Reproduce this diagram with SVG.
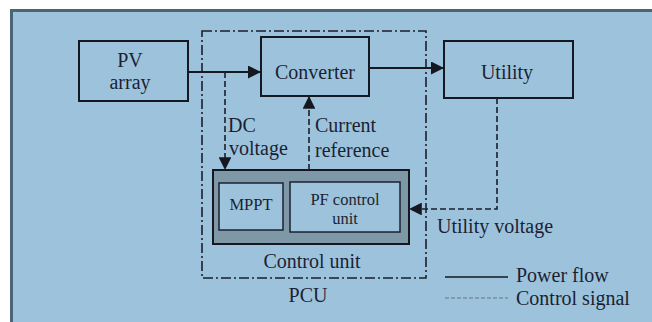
<svg xmlns="http://www.w3.org/2000/svg" width="652" height="322" viewBox="0 0 652 322" font-family="'Liberation Serif', 'DejaVu Serif', serif">
<defs>
<style>
text{font-family:'Liberation Serif','DejaVu Serif',serif;fill:#1c1f33;font-size:20px}
.s{font-size:16.5px}
.box{fill:none;stroke:#151820;stroke-width:2}
.solid{fill:none;stroke:#151820;stroke-width:2}
.dash{fill:none;stroke:#1c1f2a;stroke-width:1.6;stroke-dasharray:6,3}
.pcu{fill:none;stroke:#1c1f2a;stroke-width:1.6;stroke-dasharray:10,3,2,3}
</style>
<marker id="ah" viewBox="0 0 10 10" refX="10" refY="5" markerWidth="6.5" markerHeight="6.5" markerUnits="strokeWidth" orient="auto">
<path d="M0,0 L10,5 L0,10 z" fill="#151820"/>
</marker>
<marker id="ahd" viewBox="0 0 10 10" refX="10" refY="5" markerWidth="8" markerHeight="8" markerUnits="strokeWidth" orient="auto">
<path d="M0,0 L10,5 L0,10 z" fill="#151820"/>
</marker>
</defs>
<rect x="0" y="0" width="652" height="322" fill="#ffffff"/>
<rect x="10" y="9" width="642" height="313" fill="#9dc3dc"/>
<rect x="10" y="9" width="642" height="3" fill="#4a6578"/>
<rect x="10" y="9" width="3" height="313" fill="#4a6578"/>

<g id="pcu">
<rect class="pcu" x="202" y="31" width="224" height="247"/>
<text x="308" y="302" text-anchor="middle">PCU</text>
</g>

<g id="pv">
<rect class="box" x="79" y="41" width="109" height="60"/>
<text x="130" y="67" text-anchor="middle">PV</text>
<text x="130" y="89" text-anchor="middle">array</text>
</g>

<g id="converter">
<rect class="box" x="261" y="37" width="108" height="59"/>
<text x="315" y="79" text-anchor="middle">Converter</text>
</g>

<g id="utility">
<rect class="box" x="444" y="41" width="129" height="57"/>
<text x="507" y="79" text-anchor="middle">Utility</text>
</g>

<g id="control-unit">
<rect x="213" y="170" width="196" height="74" fill="#7f98a8" stroke="#151820" stroke-width="2"/>
<text x="312" y="268" text-anchor="middle">Control unit</text>
</g>

<g id="mppt">
<rect x="219" y="183" width="64" height="47" fill="#9dc3dc" stroke="#1c2230" stroke-width="1.5"/>
<text class="s" x="251" y="210" text-anchor="middle">MPPT</text>
</g>

<g id="pf-control">
<rect x="290" y="182" width="110" height="50" fill="#9dc3dc" stroke="#1c2230" stroke-width="1.5"/>
<text class="s" x="345" y="205" text-anchor="middle">PF control</text>
<text class="s" x="345" y="224" text-anchor="middle">unit</text>
</g>

<g id="connectors">
<line class="solid" x1="188" y1="72" x2="261" y2="72" marker-end="url(#ah)"/>
<line class="solid" x1="369" y1="68" x2="444" y2="68" marker-end="url(#ah)"/>
<polyline class="dash" points="225,72 225,170" marker-end="url(#ahd)"/>
<polyline class="dash" points="309,170 309,96" marker-end="url(#ahd)"/>
<polyline class="dash" points="497,98 497,209 409,209" marker-end="url(#ahd)"/>
<text x="228" y="132">DC</text>
<text x="229" y="155">voltage</text>
<text x="315" y="132">Current</text>
<text x="315" y="157">reference</text>
<text x="437" y="233">Utility voltage</text>
</g>

<g id="legend">
<line x1="445" y1="277" x2="508" y2="277" stroke="#151820" stroke-width="1.6"/>
<text x="516" y="282">Power flow</text>
<line x1="445" y1="298" x2="508" y2="298" stroke="#7a8ea0" stroke-width="1.6" stroke-dasharray="4,2"/>
<text x="516" y="305">Control signal</text>
</g>
</svg>
